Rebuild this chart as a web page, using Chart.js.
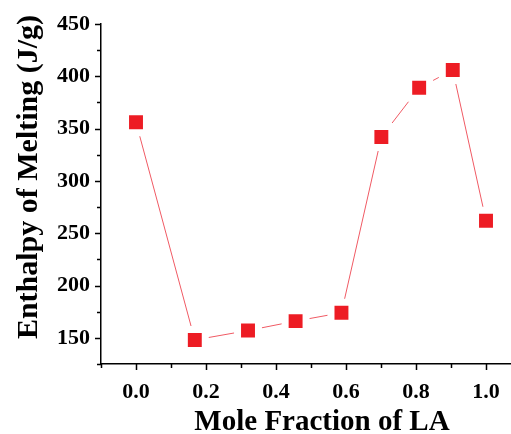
<!DOCTYPE html>
<html>
<head>
<meta charset="utf-8">
<script src="https://cdn.jsdelivr.net/npm/chart.js@4.4.1/dist/chart.umd.min.js"></script>
<style>
  html, body { margin: 0; padding: 0; background: #ffffff; }
  #wrap { width: 511px; height: 434px; position: relative; }
</style>
</head>
<body>
<div id="wrap"><canvas id="c" width="511" height="434"></canvas></div>
<script>
// Mole fraction of LA and measured enthalpy of melting
const moleFraction = [0.0, 0.168, 0.32, 0.456, 0.587, 0.701, 0.809, 0.905, 1.0];
const enthalpy = [356, 148, 157, 166, 174, 342, 389, 406, 262];

const xTickValues = [0.0, 0.2, 0.4, 0.6, 0.8, 1.0];
const xTickLabels = ['0.0', '0.2', '0.4', '0.6', '0.8', '1.0'];
const yTickValues = [150, 200, 250, 300, 350, 400, 450];
const yTickLabels = ['150', '200', '250', '300', '350', '400', '450'];

const xTitle = 'Mole Fraction of LA';
const yTitle = 'Enthalpy of Melting (J/g)';

const serif = "'Liberation Serif', 'Times New Roman', serif";

// Outward major/minor tick marks plus the two axis titles
const axisDecor = {
  id: 'axisDecor',
  afterDraw(chart) {
    const ctx = chart.ctx;
    const xs = chart.scales.x, ys = chart.scales.y;
    const area = chart.chartArea;
    ctx.save();
    ctx.strokeStyle = '#000';
    ctx.lineWidth = 1.5;
    ctx.beginPath();
    for (let i = -1; i <= 10; i++) {
      const v = i / 10;
      const px = Math.round(xs.getPixelForValue(v)) + 0.5;
      if (px > area.right) continue;
      const len = (i % 2 === 0) ? 6 : 4;
      ctx.moveTo(px, area.bottom);
      ctx.lineTo(px, area.bottom + len);
    }
    for (let v = 125; v <= 450; v += 25) {
      const py = Math.round(ys.getPixelForValue(v)) + 0.5;
      const len = (v % 50 === 0) ? 6 : 4;
      ctx.moveTo(area.left, py);
      ctx.lineTo(area.left - len, py);
    }
    ctx.stroke();

    ctx.fillStyle = '#000';
    ctx.font = 'bold 29px ' + serif;
    ctx.textAlign = 'center';
    ctx.textBaseline = 'alphabetic';
    ctx.fillText(xTitle, 322, 430);

    ctx.translate(37, 177);
    ctx.rotate(-Math.PI / 2);
    ctx.font = 'bold 30px ' + serif;
    ctx.fillText(yTitle, 0, 0);
    ctx.restore();
  }
};

new Chart(document.getElementById('c'), {
  type: 'scatter',
  data: {
    datasets: [{
      data: moleFraction.map((x, i) => ({ x: x, y: enthalpy[i] })),
      showLine: true,
      borderColor: '#f05a64',
      borderWidth: 1,
      pointStyle: 'rect',
      pointRadius: 14.8,
      pointHoverRadius: 14.8,
      pointBackgroundColor: '#ed1c24',
      pointBorderColor: '#ffffff',
      pointBorderWidth: 7,
      tension: 0
    }]
  },
  options: {
    responsive: false,
    animation: false,
    devicePixelRatio: 1,
    layout: { autoPadding: false, padding: { top: 24, right: 0, left: 0, bottom: 0 } },
    plugins: { legend: { display: false }, tooltip: { enabled: false } },
    scales: {
      x: {
        type: 'linear',
        min: -0.1,
        max: 1.0714,
        grid: { display: false, drawTicks: false },
        border: { display: true, color: '#000', width: 1.5 },
        afterBuildTicks: (s) => { s.ticks = xTickValues.map(v => ({ value: v })); },
        afterFit: (s) => { s.height = 70; s.paddingLeft = 0; s.paddingRight = 0; },
        ticks: {
          padding: 15,
          color: '#000',
          font: { family: serif, size: 22, weight: 'bold' },
          maxRotation: 0,
          autoSkip: false,
          callback: (v) => xTickLabels[xTickValues.findIndex(t => Math.abs(t - v) < 1e-6)]
        }
      },
      y: {
        type: 'linear',
        min: 125,
        max: 450,
        grid: { display: false, drawTicks: false },
        border: { display: true, color: '#000', width: 1.5 },
        afterBuildTicks: (s) => { s.ticks = yTickValues.map(v => ({ value: v })); },
        afterFit: (s) => { s.width = 101; s.paddingTop = 0; s.paddingBottom = 0; },
        ticks: {
          padding: 11,
          color: '#000',
          font: { family: serif, size: 22, weight: 'bold' },
          autoSkip: false,
          callback: (v) => yTickLabels[yTickValues.indexOf(v)]
        }
      }
    }
  },
  plugins: [axisDecor]
});
</script>
</body>
</html>
